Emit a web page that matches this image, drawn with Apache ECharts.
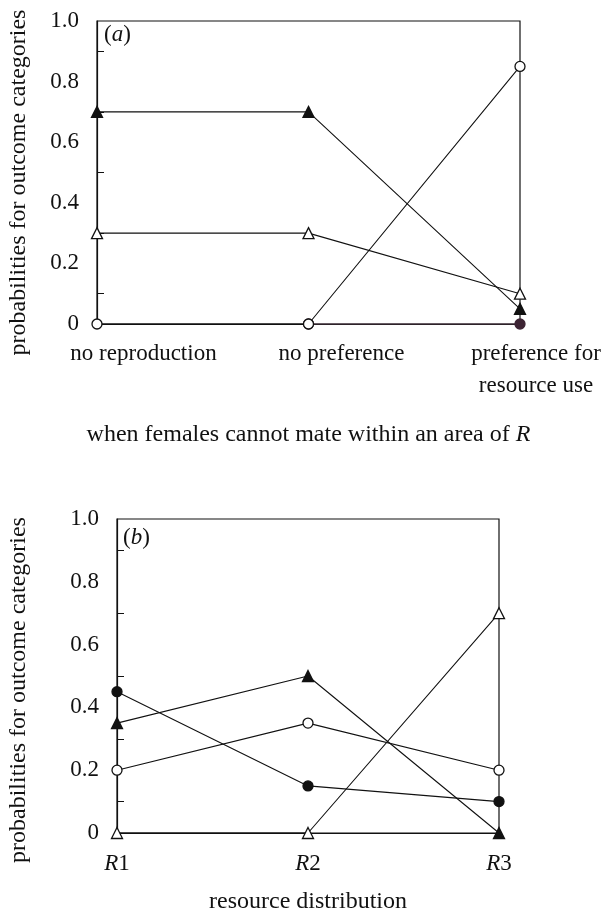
<!DOCTYPE html>
<html>
<head>
<meta charset="utf-8">
<script src="https://cdn.jsdelivr.net/npm/echarts@6/dist/echarts.min.js"></script>
<style>
html, body { margin: 0; padding: 0; background: #fff; }
#chart { width: 608px; height: 915px; }
</style>
</head>
<body>
<div id="chart"></div>
<script>
// panel (a)
var catsA = ['no reproduction', 'no preference', 'preference for\nresource use'];
var aFilledTri = [0.7, 0.7, 0.05];
var aOpenTri = [0.3, 0.3, 0.1];
var aOpenCircle = [0, 0, 0.85];
var aFilledCircle = [null, 0, 0];

// panel (b)
var catsB = ['R1', 'R2', 'R3'];
var bOpenTri = [0, 0, 0.7];
var bFilledTri = [0.35, 0.5, 0];
var bOpenCircle = [0.2, 0.35, 0.2];
var bFilledCircle = [0.45, 0.15, 0.1];

var FONT = '"Liberation Serif", "Times New Roman", serif';
var INK = '#111';

var chart = echarts.init(document.getElementById('chart'));

function yAxisFor(gi, gap, shift) {
	return {
		type: 'value', gridIndex: gi, min: 0, max: 1, interval: 0.2,
		name: 'probabilities for outcome categories',
		nameLocation: 'middle', nameGap: gap,
		nameTextStyle: { fontFamily: FONT, fontSize: 24, color: INK, padding: [0, shift, 0, 0] },
		axisLine: { show: true, lineStyle: { color: INK, width: 1.2 } },
		axisTick: { show: false, inside: true },
		minorTick: { show: true, splitNumber: 2, length: 7, lineStyle: { color: INK, width: 1 } },
		splitLine: { show: false },
		axisLabel: {
			fontFamily: FONT, fontSize: 23, color: INK, margin: 18,
			formatter: function (v) { return v === 0 ? '0' : v.toFixed(1); }
		}
	};
}

function line(name, data, gi, symbol, filled, lineColor, fillColor) {
	return {
		name: name, type: 'line', xAxisIndex: gi, yAxisIndex: gi,
		data: data, clip: false, symbol: symbol,
		symbolSize: symbol === 'triangle' ? 11 : 10,
		showSymbol: true, connectNulls: false,
		lineStyle: { color: lineColor || INK, width: 1.1 },
		itemStyle: {
			color: filled ? (fillColor || INK) : '#fff',
			borderColor: filled ? (fillColor || INK) : INK,
			borderWidth: 1.3
		},
		emphasis: { disabled: true },
		animation: false
	};
}

var option = {
	backgroundColor: '#fff',
	animation: false,
	title: [
		{ text: '({i|a})', left: 104, top: 23, padding: 0,
			textStyle: { fontFamily: FONT, fontSize: 23, fontWeight: 'normal', color: INK,
				rich: { i: { fontFamily: FONT, fontSize: 23, fontStyle: 'italic', color: INK } } } },
		{ text: '({i|b})', left: 123, top: 526, padding: 0,
			textStyle: { fontFamily: FONT, fontSize: 23, fontWeight: 'normal', color: INK,
				rich: { i: { fontFamily: FONT, fontSize: 23, fontStyle: 'italic', color: INK } } } }
	],
	grid: [
		{ left: 97, top: 21, width: 423, height: 303, show: true, borderColor: INK, borderWidth: 1.2,
			containLabel: false, outerBoundsMode: 'none' },
		{ left: 117, top: 519, width: 382, height: 314, show: true, borderColor: INK, borderWidth: 1.2,
			containLabel: false, outerBoundsMode: 'none' }
	],
	xAxis: [
		{
			type: 'category', gridIndex: 0, data: catsA, boundaryGap: false,
			name: '{n|when females cannot mate within an area of }{i|R}',
			nameLocation: 'middle', nameGap: 99,
			nameTextStyle: { fontFamily: FONT, fontSize: 24, color: INK,
				rich: { n: { fontFamily: FONT, fontSize: 24, color: INK },
					i: { fontFamily: FONT, fontSize: 24, color: INK, fontStyle: 'italic' } } },
			axisLine: { show: true, lineStyle: { color: INK, width: 1.2 } },
			axisTick: { show: false },
			axisLabel: {
				interval: 0, margin: 14, fontFamily: FONT, fontSize: 23, color: INK,
				formatter: function (v, idx) {
					return v.split('\n').map(function (s) { return '{p' + idx + '|' + s + '}'; }).join('\n');
				},
				rich: {
					p0: { fontFamily: FONT, fontSize: 23, color: INK, lineHeight: 32, padding: [0, 0, 0, 93] },
					p1: { fontFamily: FONT, fontSize: 23, color: INK, lineHeight: 32, padding: [0, 0, 0, 66] },
					p2: { fontFamily: FONT, fontSize: 23, color: INK, lineHeight: 32, padding: [0, 0, 0, 32] }
				}
			}
		},
		{
			type: 'category', gridIndex: 1, data: catsB, boundaryGap: false,
			name: 'resource distribution',
			nameLocation: 'middle', nameGap: 57,
			nameTextStyle: { fontFamily: FONT, fontSize: 24, color: INK },
			axisLine: { show: true, lineStyle: { color: INK, width: 1.2 } },
			axisTick: { show: false },
			axisLabel: {
				interval: 0, margin: 19, fontFamily: FONT, fontSize: 23, color: INK,
				formatter: function (v) { return '{i|' + v.charAt(0) + '}{n|' + v.slice(1) + '}'; },
				rich: {
					i: { fontFamily: FONT, fontSize: 23, color: INK, fontStyle: 'italic' },
					n: { fontFamily: FONT, fontSize: 23, color: INK }
				}
			}
		}
	],
	yAxis: [yAxisFor(0, 66, 20), yAxisFor(1, 86, 28)],
	series: [
		line('a filled circle', aFilledCircle, 0, 'circle', true, '#4a3542', '#3d2434'),
		line('a open circle', aOpenCircle, 0, 'circle', false),
		line('a open triangle', aOpenTri, 0, 'triangle', false),
		line('a filled triangle', aFilledTri, 0, 'triangle', true),
		line('b open triangle', bOpenTri, 1, 'triangle', false),
		line('b filled triangle', bFilledTri, 1, 'triangle', true),
		line('b open circle', bOpenCircle, 1, 'circle', false),
		line('b filled circle', bFilledCircle, 1, 'circle', true)
	]
};

chart.setOption(option);
</script>
</body>
</html>
